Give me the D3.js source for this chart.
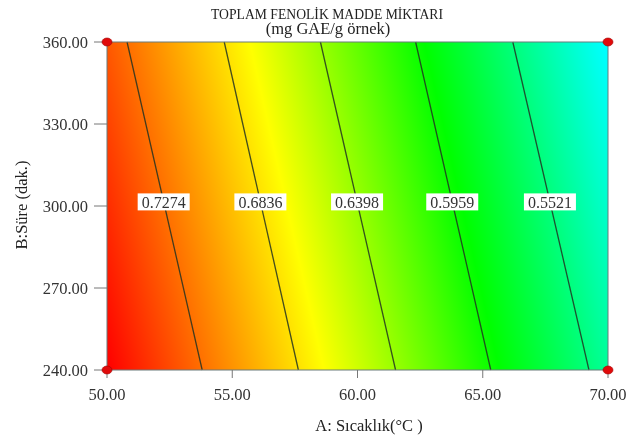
<!DOCTYPE html>
<html><head><meta charset="utf-8">
<script src="https://cdn.jsdelivr.net/npm/d3@7/dist/d3.min.js"></script>
<style>
html,body{margin:0;padding:0;background:#fff;}
#wrap{position:relative;width:633px;height:437px;overflow:hidden;}
canvas,svg{position:absolute;left:0;top:0;}
</style></head>
<body><div id="wrap"><canvas id="cv" width="633" height="437"></canvas><svg id="sv" width="633" height="437"></svg></div>
<script>
// ---- data ----
const contourLevels = [0.7274, 0.6836, 0.6398, 0.5959, 0.5521];
const contourA_atB240 = [53.8, 57.64, 61.52, 65.32, 69.24];
const contourA_atB360 = [50.8, 54.68, 58.52, 62.32, 66.2];
const cornerValues = { a50b240: 0.7705, a50b360: 0.7365, a70b240: 0.543, a70b360: 0.5085 };
const designPoints = [[50, 240], [50, 360], [70, 240], [70, 360]];
const xTicks = [50, 55, 60, 65, 70];
const yTicks = [240, 270, 300, 330, 360];
const colorStops = [0.51, 0.592, 0.672, 0.77];
const colorRange = ["#00ffff", "#00ff00", "#ffff00", "#ff0000"];

const L = 107, R = 608, T = 42, B = 370;
const x = d3.scaleLinear().domain([50, 70]).range([L, R]);
const y = d3.scaleLinear().domain([240, 360]).range([B, T]);
const color = d3.scaleLinear().domain(colorStops).range(colorRange).clamp(true);

function contourA(i, b) {
  const t = (b - 240) / 120;
  return contourA_atB240[i] + (contourA_atB360[i] - contourA_atB240[i]) * t;
}
function field(a, b) {
  const t = (b - 240) / 120;
  const vL = cornerValues.a50b240 + (cornerValues.a50b360 - cornerValues.a50b240) * t;
  const vR = cornerValues.a70b240 + (cornerValues.a70b360 - cornerValues.a70b240) * t;
  const knotsA = [50].concat(contourLevels.map((_, i) => contourA(i, b)), [70]);
  const knotsV = [vL].concat(contourLevels, [vR]);
  return d3.scaleLinear().domain(knotsA).range(knotsV)(a);
}

// ---- fill ----
const ctx = document.getElementById('cv').getContext('2d');
const img = ctx.createImageData(R - L, B - T);
for (let py = 0; py < B - T; py++) {
  const b = y.invert(T + py + 0.5);
  for (let px = 0; px < R - L; px++) {
    const a = x.invert(L + px + 0.5);
    const c = d3.rgb(color(field(a, b)));
    const k = (py * (R - L) + px) * 4;
    img.data[k] = c.r; img.data[k+1] = c.g; img.data[k+2] = c.b; img.data[k+3] = 255;
  }
}
ctx.putImageData(img, L, T);

const svg = d3.select('#sv');
const serif = "'Liberation Serif', 'DejaVu Serif', serif";

// contour lines
svg.append('g').selectAll('line').data(contourLevels).join('line')
  .attr('x1', (d, i) => x(contourA_atB240[i])).attr('y1', y(240))
  .attr('x2', (d, i) => x(contourA_atB360[i])).attr('y2', y(360))
  .attr('stroke', '#223322').attr('stroke-opacity', 0.85).attr('stroke-width', 1.3);

// border
svg.append('rect').attr('x', L).attr('y', T).attr('width', R - L).attr('height', B - T)
  .attr('fill', 'none').attr('stroke', '#6a7a7a').attr('stroke-width', 1);

// contour labels
const lab = svg.append('g').selectAll('g').data(contourLevels).join('g')
  .attr('transform', (d, i) => `translate(${x(contourA(i, 301.5))},${y(301.5)})`);
lab.append('rect').attr('x', -26).attr('y', -8.5).attr('width', 52).attr('height', 17).attr('fill', '#fff');
lab.append('text').attr('text-anchor', 'middle').attr('dy', '0.36em')
  .style('font-family', serif).style('font-size', '16px').attr('fill', '#333')
  .text(d => d.toFixed(4));

// axes ticks
const gx = svg.append('g');
gx.selectAll('line').data(xTicks).join('line')
  .attr('x1', d => x(d)).attr('x2', d => x(d)).attr('y1', B).attr('y2', B + 8)
  .attr('stroke', '#777').attr('stroke-width', 1);
gx.selectAll('text').data(xTicks).join('text')
  .attr('x', d => x(d)).attr('y', 400).attr('text-anchor', 'middle')
  .style('font-family', serif).style('font-size', '16.5px').attr('fill', '#333')
  .text(d => d.toFixed(2));
const gy = svg.append('g');
gy.selectAll('line').data(yTicks).join('line')
  .attr('x1', L - 13).attr('x2', L).attr('y1', d => y(d)).attr('y2', d => y(d))
  .attr('stroke', '#777').attr('stroke-width', 1);
gy.selectAll('text').data(yTicks).join('text')
  .attr('x', 88).attr('y', d => y(d)).attr('dy', '0.35em').attr('text-anchor', 'end')
  .style('font-family', serif).style('font-size', '16.5px').attr('fill', '#333')
  .text(d => d.toFixed(2));

// design points
svg.append('g').selectAll('ellipse').data(designPoints).join('ellipse')
  .attr('cx', d => x(d[0])).attr('cy', d => y(d[1])).attr('rx', 5).attr('ry', 4)
  .attr('fill', '#e00a0a').attr('stroke', '#a00000').attr('stroke-width', 0.6);

// titles
svg.append('text').attr('x', 327).attr('y', 19).attr('text-anchor', 'middle')
  .style('font-family', serif).style('font-size', '15.5px').attr('fill', '#222')
  .attr('textLength', 232).attr('lengthAdjust', 'spacingAndGlyphs')
  .text('TOPLAM FENOLİK MADDE MİKTARI');
svg.append('text').attr('x', 328).attr('y', 34).attr('text-anchor', 'middle')
  .style('font-family', serif).style('font-size', '16.5px').attr('fill', '#222')
  .text('(mg GAE/g örnek)');
svg.append('text').attr('x', 369).attr('y', 431).attr('text-anchor', 'middle')
  .style('font-family', serif).style('font-size', '16.5px').attr('fill', '#222')
  .text('A: Sıcaklık(°C )');
svg.append('text').attr('transform', 'translate(27,205) rotate(-90)').attr('text-anchor', 'middle')
  .style('font-family', serif).style('font-size', '16.5px').attr('fill', '#222')
  .text('B:Süre (dak.)');
</script></body></html>
